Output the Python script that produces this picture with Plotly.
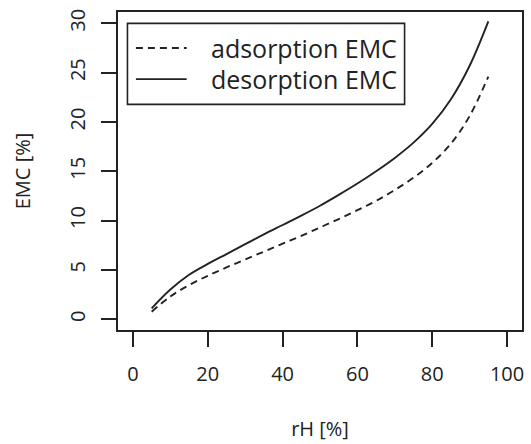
import plotly.graph_objects as go

# ---- data ----
rh = [5, 10, 15, 20, 25, 30, 35, 40, 45, 50, 55, 60, 65, 70, 75, 80, 85, 90, 95]
desorption_emc = [1.1, 3.0, 4.5, 5.6, 6.6, 7.6, 8.6, 9.55, 10.5, 11.5, 12.6, 13.75,
                  15.0, 16.35, 17.9, 19.8, 22.3, 25.7, 30.2]
adsorption_emc = [0.75, 2.3, 3.45, 4.4, 5.25, 6.05, 6.85, 7.65, 8.45, 9.3, 10.15, 11.05,
                  12.0, 13.1, 14.35, 15.85, 17.8, 20.6, 24.6]
x_ticks = [0, 20, 40, 60, 80, 100]
y_ticks = [0, 5, 10, 15, 20, 25, 30]
legend_labels = ["adsorption EMC", "desorption EMC"]

W, H = 531, 444
ML, MR, MT, MB = 118, 7, 12, 110
PW, PH = W - ML - MR, H - MT - MB
INK = "#222222"
FONT = "Open Sans"


def px(x):
    return (x - ML) / PW


def py(y):
    return (H - MB - y) / PH


fig = go.Figure()
fig.add_trace(go.Scatter(x=rh, y=adsorption_emc, mode="lines", name=legend_labels[0],
                         line=dict(color=INK, width=1.9, dash="7px,5px", shape="spline"),
                         showlegend=False))
fig.add_trace(go.Scatter(x=rh, y=desorption_emc, mode="lines", name=legend_labels[1],
                         line=dict(color=INK, width=1.9, shape="spline"),
                         showlegend=False))

# manual legend (R style)
shapes = [dict(type="rect", xref="paper", yref="paper", x0=px(127.5), x1=px(406),
               y0=py(105.5), y1=py(23.5), line=dict(color=INK, width=1.6),
               fillcolor="white", layer="below")]
rows = [48.5, 80]
dashes = ["7px,5px", "solid"]
for yy, dsh in zip(rows, dashes):
    shapes.append(dict(type="line", xref="paper", yref="paper", x0=px(136), x1=px(187),
                       y0=py(yy), y1=py(yy), line=dict(color=INK, width=1.9, dash=dsh)))
annotations = []
for yy, lab in zip(rows, legend_labels):
    annotations.append(dict(xref="paper", yref="paper", x=px(209), y=py(yy),
                            text=lab, showarrow=False, xanchor="left", yanchor="middle",
                            font=dict(family=FONT, size=25, color=INK)))

fig.update_layout(
    width=W, height=H,
    margin=dict(l=ML, r=MR, t=MT, b=MB),
    paper_bgcolor="white", plot_bgcolor="white",
    font=dict(family=FONT, color=INK),
    shapes=shapes, annotations=annotations,
    showlegend=False,
)
fig.update_xaxes(range=[-4, 104], tickvals=x_ticks, ticktext=[str(v) for v in x_ticks],
                 showgrid=False, zeroline=False, showline=True, mirror=True,
                 linecolor=INK, linewidth=1.6, ticks="outside", ticklen=15,
                 tickwidth=1.6, tickcolor=INK, ticklabelstandoff=10,
                 tickfont=dict(family=FONT, size=20, color=INK),
                 title=dict(text="rH [%]", font=dict(family=FONT, size=20, color=INK),
                            standoff=36))
fig.update_yaxes(range=[-1.1, 31.15], tickvals=y_ticks, ticktext=[str(v) for v in y_ticks],
                 showgrid=False, zeroline=False, showline=True, mirror=True,
                 linecolor=INK, linewidth=1.6, ticks="outside", ticklen=15,
                 tickwidth=1.6, tickcolor=INK, tickangle=-90, ticklabelstandoff=8,
                 tickfont=dict(family=FONT, size=20, color=INK),
                 title=dict(text="EMC [%]", font=dict(family=FONT, size=20, color=INK),
                            standoff=28))

fig.write_html("out.html")
